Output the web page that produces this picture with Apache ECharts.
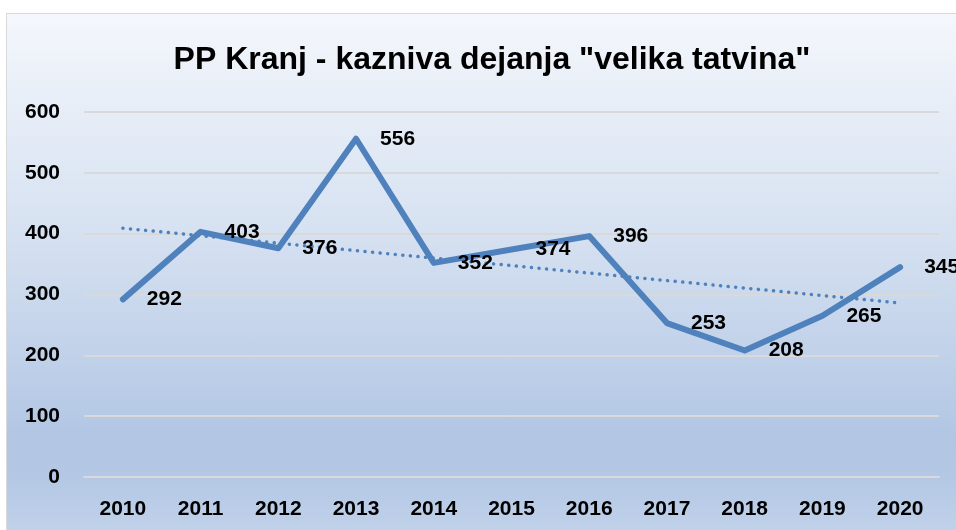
<!DOCTYPE html>
<html>
<head>
<meta charset="utf-8">
<script src="https://cdn.jsdelivr.net/npm/echarts@6/dist/echarts.min.js"></script>
<style>
  html, body { margin: 0; padding: 0; background: #fff; }
  #bg {
    position: absolute; left: 6px; top: 13px; width: 960px; height: 530px;
    border: 1px solid #D9D9D9; box-sizing: border-box;
    background: linear-gradient(to bottom, #F4F7FC 0%, #D3DFF0 45%, #B2C6E4 80%, #B4C8E5 88%, #C3D3EA 100%);
  }
  #main { position: absolute; left: 0; top: 0; width: 956px; height: 530px; }
</style>
</head>
<body>
<div id="bg"></div>
<div id="main"></div>
<script>
// podatki
var years = ['2010', '2011', '2012', '2013', '2014', '2015', '2016', '2017', '2018', '2019', '2020'];
var cases = [292, 403, 376, 556, 352, 374, 396, 253, 208, 265, 345];
// linearni trend (odčitano s slike: začetek 2010, konec 2020)
var trend = [409, null, null, null, null, null, null, null, null, null, 286];
var yTicks = [0, 100, 200, 300, 400, 500, 600];

var blue = '#4F81BD';
var font = 'Liberation Sans';

var myChart = echarts.init(document.getElementById('main'));
myChart.setOption({
  backgroundColor: 'transparent',
  animation: false,
  title: {
    text: 'PP Kranj - kazniva dejanja "velika tatvina"',
    left: 487,
    top: 39,
    textAlign: 'center',
    textStyle: { fontFamily: font, fontWeight: 'bold', fontSize: 32, color: '#000' }
  },
  grid: { left: 84, right: 17, top: 112, bottom: 53, containLabel: false },
  xAxis: {
    type: 'category',
    data: years,
    boundaryGap: true,
    axisLine: { show: true, lineStyle: { color: '#D9D9D9', width: 2 } },
    axisTick: { show: false },
    axisLabel: { margin: 22, fontFamily: font, fontWeight: 'bold', fontSize: 21, color: '#000' }
  },
  yAxis: {
    type: 'value',
    min: yTicks[0],
    max: yTicks[yTicks.length - 1],
    interval: 100,
    axisLine: { show: false },
    axisTick: { show: false },
    splitLine: { lineStyle: { color: '#D9D9D9', width: 2 } },
    axisLabel: { margin: 24, fontFamily: font, fontWeight: 'bold', fontSize: 21, color: '#000' }
  },
  series: [
    {
      name: 'trend',
      type: 'line',
      data: trend,
      connectNulls: true,
      showSymbol: false,
      symbol: 'none',
      lineStyle: { color: blue, width: 3.5, type: [0.1, 7.5], cap: 'round' },
      z: 2
    },
    {
      name: 'velika tatvina',
      type: 'line',
      data: cases,
      showSymbol: true,
      showAllSymbol: true,
      symbol: 'circle',
      symbolSize: 2,
      itemStyle: { color: 'rgba(0,0,0,0)', borderWidth: 0 },
      lineStyle: { color: blue, width: 6, cap: 'round', join: 'round' },
      label: {
        show: true,
        position: 'right',
        distance: 23,
        fontFamily: font,
        fontWeight: 'bold',
        fontSize: 21,
        color: '#000'
      },
      labelLayout: { hideOverlap: false },
      z: 3
    }
  ]
});
</script>
</body>
</html>
